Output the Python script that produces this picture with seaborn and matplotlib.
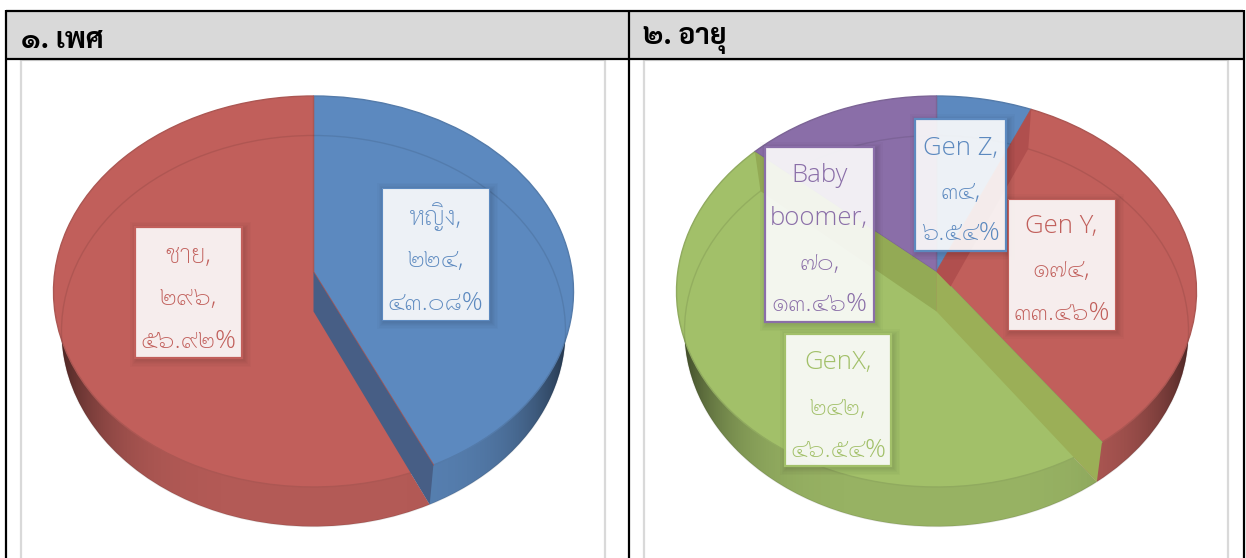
import numpy as np
import matplotlib
matplotlib.use("Agg")
import matplotlib.pyplot as plt
import seaborn as sns
from matplotlib.patches import Ellipse, Rectangle
from matplotlib.transforms import Transform

# Data
gender_labels = ["ชาย", "หญิง"]
gender_counts = [296, 224]
gender_colors = ["#C15F5B", "#5C89BF"]
# pie runs clockwise from 12 o'clock, so women come first
gender_order = [1, 0]

age_labels = ["Gen Z", "Gen Y", "GenX", "Baby\nboomer"]
age_counts = [34, 174, 242, 70]
age_colors = ["#5C89BF", "#C15F5B", "#A2C069", "#8A6EA8"]

titles = ["๑. เพศ", "๒. อายุ"]

W, H = 1246, 558
THAI_DIGITS = str.maketrans("0123456789", "๐๑๒๓๔๕๖๗๘๙")

sns.set_theme(style="white")
plt.rcParams["font.family"] = ["Sarabun", "DejaVu Sans"]
LABEL_FONT = ["Open Sans", "Sarabun", "DejaVu Sans"]


class TiltedDisc(Transform):
    # unit circle -> the slightly perspective disc Excel draws
    input_dims = 2
    output_dims = 2

    def __init__(self, sx=1.0, dy=0.0, b=0.1):
        super().__init__()
        self.sx, self.dy, self.b = sx, dy, b

    def transform_non_affine(self, values):
        values = np.asarray(values, dtype=float)
        x, y = values[:, 0], values[:, 1]
        k = 1 + self.b * y
        return np.column_stack([
            self.sx * x * np.sqrt(1 - self.b ** 2) / k,
            (y + self.b) / k + self.dy,
        ])


def draw_pie(fig, values, colors, cx, strips):
    cy, rx, ry = 291.5, 260.0, 195.5
    depth = 39.5 / ry
    sx = 252 / rx

    ax = fig.add_axes([0, 0, 1, 1])
    top = TiltedDisc()
    bottom = TiltedDisc(sx=sx, dy=-depth)

    # side wall
    wall_colors = [sns.dark_palette(c, 12)[10] for c in colors]
    wall, _ = ax.pie(values, colors=wall_colors, startangle=90, counterclock=False,
                     wedgeprops=dict(zorder=1, linewidth=0))
    for w in wall:
        w.set_transform(bottom + ax.transData)

    # darker towards both ends of the wall
    xs = np.linspace(-1, 1, 256)
    shade = np.zeros((1, 256, 4))
    shade[..., 3] = 0.65 * np.abs(xs) ** 5
    im = ax.imshow(shade, extent=(-1, 1, -1 - depth, 1), aspect="auto", zorder=2)
    im.set_clip_path(Ellipse((0, -depth), 2 * sx, 2, transform=ax.transData))

    # top face
    face, _ = ax.pie(values, colors=colors, startangle=90, counterclock=False,
                     wedgeprops=dict(zorder=3, linewidth=1.0))
    for w, c in zip(face, colors):
        w.set_edgecolor(sns.dark_palette(c, 8)[6])
        w.set_transform(top + ax.transData)

    # bottom rim seen through the top face
    ax.add_patch(Ellipse((0, -depth), 2 * sx, 2, fill=False, edgecolor="black",
                         alpha=0.09, linewidth=1.0, zorder=4))

    # cut walls of the slices
    total = float(sum(values))
    ends = np.cumsum(values) / total * 2 * np.pi
    for idx, color in strips:
        a = ends[idx]
        rim = np.array([[np.sin(a), np.cos(a)]])
        centre = np.array([[0.0, 0.0]])
        pts = np.vstack([
            top.transform_non_affine(centre),
            top.transform_non_affine(rim),
            bottom.transform_non_affine(rim),
            bottom.transform_non_affine(centre),
        ])
        ax.fill(pts[:, 0], pts[:, 1], color=color, linewidth=0, zorder=5)

    ax.set_aspect("auto")
    ax.set_xlim(-cx / rx, (W - cx) / rx)
    ax.set_ylim((cy - H) / ry, cy / ry)
    ax.set_axis_off()
    return ax


def draw_label(ax, box, lines, line_y, color, border=1.6):
    x0, y0, x1, y1 = box
    # soft shadow
    for grow in [7, 5.5, 4, 3, 2, 1]:
        ax.add_patch(Rectangle((x0 + 2 - grow, y0 + 2 - grow), x1 - x0 + 2 * grow,
                               y1 - y0 + 2 * grow, facecolor="black", alpha=0.018,
                               linewidth=0, zorder=6))
    ax.add_patch(Rectangle((x0, y0), x1 - x0, y1 - y0, facecolor="white", alpha=0.9,
                           linewidth=0, zorder=7))
    ax.add_patch(Rectangle((x0, y0), x1 - x0, y1 - y0, fill=False, edgecolor=color,
                           linewidth=border, zorder=8))
    for line, y in zip(lines, line_y):
        ax.text((x0 + x1) / 2, y + 2, line, color=color, ha="center", va="center",
                family=LABEL_FONT, fontsize=18.5, fontweight=200, zorder=9)


def label_lines(name, count, total):
    pct = f"{count / total * 100:.2f}%".translate(THAI_DIGITS)
    num = str(count).translate(THAI_DIGITS)
    return (name + ",").split("\n") + [num + ",", pct]


fig = plt.figure(figsize=(W / 100, H / 100), dpi=100, facecolor="white")

g_vals = [gender_counts[i] for i in gender_order]
g_cols = [gender_colors[i] for i in gender_order]
draw_pie(fig, g_vals, g_cols, 313.5, [(0, "#475E85")])
draw_pie(fig, age_counts, age_colors, 936.5,
         [(0, "#B04F4E"), (2, "#93AA55"), (1, "#9BAF57")])

# table frame, cards, labels in pixel coordinates
ov = fig.add_axes([0, 0, 1, 1])
ov.set_xlim(0, W)
ov.set_ylim(H, 0)
ov.set_axis_off()
ov.patch.set_visible(False)

for x0, x1 in [(21, 605), (644, 1228)]:
    ov.plot([x0, x0, x1, x1], [H, 60, 60, H], color="#D9D9D9", linewidth=1.6, zorder=1)

ov.add_patch(Rectangle((6, 11), 1237, 47.5, facecolor="#D9D9D9", linewidth=0, zorder=1))
for xs_, ys_ in [([6, 1243], [11, 11]), ([6, 1243], [58.5, 58.5]),
                 ([6, 6], [10, H]), ([629, 629], [10, H]), ([1243.5, 1243.5], [10, H])]:
    ov.plot(xs_, ys_, color="black", linewidth=1.6, zorder=2, solid_capstyle="butt")

ov.text(21, 40, titles[0], color="black", fontsize=20.5, fontweight="bold", va="center", zorder=3)
ov.text(643, 40, titles[1], color="black", fontsize=20.5, fontweight="bold", va="center", zorder=3)

g_total = sum(gender_counts)
a_total = sum(age_counts)
draw_label(ov, (135, 226.5, 242, 358), label_lines(gender_labels[0], gender_counts[0], g_total),
           [254, 297, 339], gender_colors[0])
draw_label(ov, (382, 187.5, 489, 320), label_lines(gender_labels[1], gender_counts[1], g_total),
           [215, 259, 301], gender_colors[1], border=0.8)
draw_label(ov, (915, 119, 1006, 251), label_lines(age_labels[0], age_counts[0], a_total),
           [146, 190, 231], age_colors[0])
draw_label(ov, (1008, 199, 1115, 329.5), label_lines(age_labels[1], age_counts[1], a_total),
           [225, 269, 311], age_colors[1], border=0.8)
draw_label(ov, (785, 334, 891, 466), label_lines(age_labels[2], age_counts[2], a_total),
           [361, 406, 448], age_colors[2])
draw_label(ov, (765, 147, 873.5, 322), label_lines(age_labels[3], age_counts[3], a_total),
           [174, 217, 261.5, 302.5], age_colors[3])

fig.savefig("out.png", dpi=100)
